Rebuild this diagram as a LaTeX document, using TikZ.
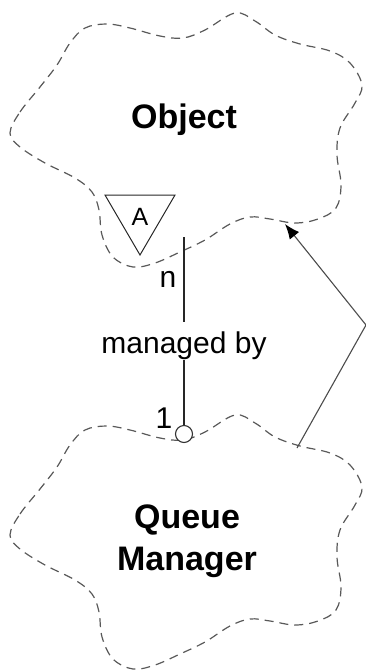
\documentclass[tikz,border=0pt]{standalone}
\usepackage{fontspec}
\setmainfont{Liberation Sans}
\usetikzlibrary{arrows.meta}
\begin{document}
\begin{tikzpicture}[x=1pt, y=-1pt,
    cloudline/.style={gray!70!black, line width=1.2pt, dash pattern=on 9pt off 6pt},
    classname/.style={font=\fontsize{34}{42}\selectfont\bfseries, align=center},
    role/.style={font=\fontsize{30}{32}\selectfont, inner sep=0pt}]
    \useasboundingbox (0,0) rectangle (366,672);
    \foreach \dy in {0,402}
        \draw[cloudline, shift={(0,\dy)}] plot[smooth cycle, tension=0.6] coordinates {
            (10,133) (20,112) (40,87) (57,65) (70,43) (85,28) (107,24) (130,28) (160,36)
            (183,38) (205,30) (235,13) (255,21) (275,35) (300,44) (330,51) (350,63)
            (362,85) (355,103) (340,128) (337,155) (341,185) (336,208) (318,219)
            (295,223) (270,219) (250,217) (230,224) (205,240) (180,252) (155,263)
            (133,267) (113,257) (102,235) (99,210) (92,192) (75,178) (45,163) (20,147)};
    \node[classname] (obj) at (184,120) {Object};
    \node[classname] (qm) at (187,541) {Queue\\Manager};
    \draw[line width=1pt, gray!30!black] (105,195) -- (175,195) -- (140,255) -- cycle;
    \node[font=\fontsize{25}{26}\selectfont, inner sep=0pt] (abs) at (140,217) {A};
    \coordinate (assocend) at (184,237);
    \node[role] (mgd) at (184,346) {managed by};
    \node[draw=gray!40!black, circle, fill=white, line width=1.1pt, minimum size=17pt, inner sep=0pt] (one) at (184,434) {};
    \draw[line width=1.6pt, gray!30!black] (assocend) -- ([yshift=10pt]mgd.north);
    \draw[line width=1.6pt, gray!30!black] (mgd.south) -- (one);
    \node[role, anchor=base] (nlbl) at (168,287) {n};
    \node[role, anchor=base] (onelbl) at (164,428) {1};
    \coordinate (qmedge) at (297,448);
    \coordinate (bend) at (366,325);
    \coordinate (objedge) at (285,224);
    \draw[gray!60!black, line width=1.1pt, -{Latex[black, length=15pt, width=12pt]}] (qmedge) -- (bend) -- (objedge);
\end{tikzpicture}
\end{document}
